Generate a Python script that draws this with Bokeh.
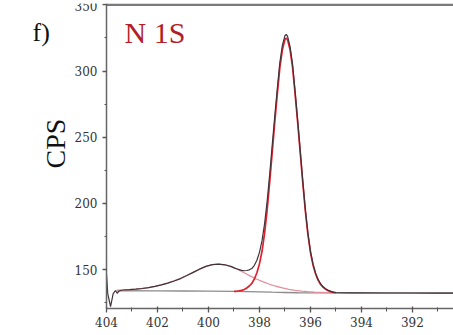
from bokeh.plotting import figure
from bokeh.models import Range1d, FixedTicker, Label
from bokeh.embed import file_html
from bokeh.resources import INLINE

# ---- data (binding energy in eV, counts per second) ----
total_x = [404.0, 403.95, 403.84, 403.74, 403.65, 403.58, 403.52, 403.45, 403.35, 403.1,
           402.85, 402.6, 402.35, 402.1, 401.85, 401.6, 401.35, 401.1, 400.85, 400.6,
           400.35, 400.1, 399.85, 399.6, 399.35, 399.1,
           399.0, 398.9, 398.8, 398.7, 398.6, 398.5, 398.4, 398.3, 398.2, 398.1,
           398.0, 397.9, 397.8, 397.7, 397.6, 397.5, 397.4, 397.3, 397.2, 397.1,
           397.0, 396.95, 396.9, 396.8, 396.7, 396.6, 396.5, 396.4, 396.3, 396.2,
           396.1, 396.0, 395.9, 395.8, 395.7, 395.6, 395.5, 395.4, 395.3, 395.2,
           395.1, 395.0, 394.5, 394.0, 393.0, 392.0, 391.0, 390.4]
total_y = [147.0, 131.8, 122.2, 131.8, 134.3, 132.2, 133.7, 134.3, 134.65, 134.9,
           135.3, 135.8, 136.5, 137.4, 138.5, 139.9, 141.5, 143.3, 145.6, 148.0,
           150.4, 152.5, 153.8, 154.2, 153.7, 152.3,
           151.4, 150.7, 150.1, 149.5, 149.2, 149.4, 149.9, 150.9, 153.3, 157.1,
           163.1, 171.9, 184.7, 201.5, 221.9, 244.0, 266.1, 287.0, 306.6, 319.6,
           326.8, 327.6, 326.4, 318.4, 304.6, 284.1, 262.4, 239.5, 216.6, 195.3,
           177.5, 163.9, 154.2, 147.4, 142.6, 139.2, 137.1, 135.5, 134.4, 133.6,
           133.1, 132.75, 132.5, 132.45, 132.4, 132.4, 132.35, 132.35]

bg_x = [403.6, 402.0, 401.0, 400.0, 399.0, 398.5, 398.0, 397.5, 397.0, 396.5, 396.0, 395.0, 392.0, 390.4]
bg_y = [134.1, 134.0, 133.9, 133.8, 133.6, 133.5, 133.3, 133.0, 132.8, 132.6, 132.5, 132.45, 132.4, 132.4]

peak1_x = [399.0, 398.9, 398.8, 398.7, 398.6, 398.5, 398.4, 398.3, 398.2, 398.1,
           398.0, 397.9, 397.8, 397.7, 397.6, 397.5, 397.4, 397.3, 397.2, 397.1,
           397.0, 396.95, 396.9, 396.8, 396.7, 396.6, 396.5, 396.4, 396.3, 396.2,
           396.1, 396.0, 395.9, 395.8, 395.7, 395.6, 395.5, 395.4, 395.3, 395.2,
           395.1, 395.0]
peak1_y = [133.6, 133.7, 134.0, 134.4, 135.1, 136.2, 137.7, 139.7, 143.0, 147.7,
           154.4, 163.9, 177.4, 194.9, 216.0, 238.6, 261.3, 282.7, 302.8, 316.2,
           323.8, 324.8, 323.8, 316.1, 302.6, 282.4, 260.9, 238.2, 215.5, 194.3,
           176.7, 163.2, 153.6, 146.9, 142.1, 138.8, 136.7, 135.2, 134.1, 133.4,
           132.9, 132.6]

peak2_x = [403.6, 403.35, 403.1, 402.85, 402.6, 402.35, 402.1, 401.85, 401.6, 401.35,
           401.1, 400.85, 400.6, 400.35, 400.1, 399.85, 399.6, 399.35, 399.1, 398.85,
           398.6, 398.35, 398.1, 397.85, 397.6, 397.35, 397.1, 396.85, 396.6, 396.35,
           396.1, 395.85, 395.6, 395.35, 395.1]
peak2_y = [134.5, 134.65, 134.9, 135.3, 135.8, 136.5, 137.4, 138.5, 139.9, 141.5,
           143.3, 145.6, 148.0, 150.4, 152.5, 153.8, 154.2, 153.7, 152.3, 150.2,
           147.7, 145.1, 142.8, 140.8, 139.0, 137.5, 136.2, 135.2, 134.4, 133.8,
           133.4, 133.1, 132.9, 132.7, 132.6]

x_major = [392, 394, 396, 398, 400, 402, 404]
x_minor = [391, 393, 395, 397, 399, 401, 403]
y_major = [150, 200, 250, 300, 350]
y_minor = [125, 175, 225, 275, 325]

X_START, X_END = 404.0, 390.39
Y_START, Y_END = 120.7, 351.0

SERIF = "Liberation Serif"

p = figure(width=453, height=335, output_backend="svg", toolbar_location=None,
           x_range=Range1d(408.157, X_END), y_range=Range1d(Y_START, Y_END),
           min_border_left=0, min_border_right=0, min_border_top=3, min_border_bottom=27)
p.outline_line_color = None
p.xgrid.visible = False
p.ygrid.visible = False
p.background_fill_color = "white"
p.border_fill_color = "white"

for ax in (p.xaxis[0], p.yaxis[0]):
    ax.axis_line_color = "#666666"
    ax.axis_line_width = 1.5
    ax.major_tick_line_color = "#555555"
    ax.minor_tick_line_color = "#555555"
    ax.major_tick_line_width = 1.3
    ax.minor_tick_line_width = 1
    ax.major_label_text_font = "DejaVu Serif"
    ax.major_label_text_font_size = "12px"
    ax.major_label_text_color = "#333333"

p.xaxis.bounds = (X_END, X_START)
p.yaxis.fixed_location = X_START
p.yaxis.bounds = (Y_START, Y_END)
p.xaxis.ticker = FixedTicker(ticks=x_major, minor_ticks=x_minor)
p.yaxis.ticker = FixedTicker(ticks=y_major, minor_ticks=y_minor)
p.xaxis.major_tick_in = 2
p.xaxis.major_tick_out = 4
p.xaxis.minor_tick_in = 1
p.xaxis.minor_tick_out = 3
p.xaxis.major_label_standoff = 4
p.yaxis.major_tick_in = 0
p.yaxis.major_tick_out = 4
p.yaxis.minor_tick_in = 0
p.yaxis.minor_tick_out = 2
p.yaxis.major_label_standoff = 5

# top border of the frame (from the axis start to the right edge)
p.line([X_START, X_END], [350, 350], line_color="#7a7a7a", line_width=2.5)

p.line(bg_x, bg_y, line_color="#8c8c8c", line_width=1.3)
p.line(peak2_x, peak2_y, line_color="#e0909c", line_width=1.3)
p.line(peak1_x, peak1_y, line_color="#e0202e", line_width=1.7)
p.line(total_x, total_y, line_color="#3f3338", line_width=1.2)

p.add_layout(Label(x=403.29, y=317.0, text="N 1S", text_font=SERIF,
                   text_font_size="30px", text_color="#b51d26"))
p.add_layout(Label(x=406.9, y=318.3, text="f)", text_font=SERIF,
                   text_font_size="26px", text_color="#111111"))
p.add_layout(Label(x=406.0, y=245.2, text="CPS", text_font=SERIF, angle=1.5708,
                   text_align="center", text_baseline="alphabetic",
                   text_font_size="28px", text_color="#111111"))

open("out.html", "w").write(file_html(p, INLINE))
